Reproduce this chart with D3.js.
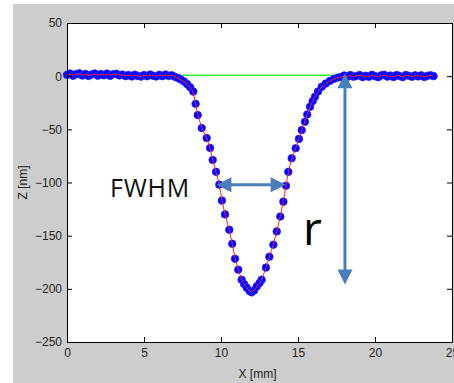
<!DOCTYPE html>
<html>
<head>
<meta charset="utf-8">
<script src="https://cdn.jsdelivr.net/npm/d3@7"></script>
<style>
  html, body { margin: 0; padding: 0; background: #fff; }
  svg { display: block; }
  .tick text { font-family: 'Liberation Sans', Arial, sans-serif; font-size: 12px; fill: #222; }
  .axis path, .axis line { stroke: #000; }
</style>
</head>
<body>
<div id="chart"></div>
<script>
// measured profile (x in mm, z in nm)
const profileX = [
  0, 0.2, 0.4, 0.6, 0.8, 1.0, 1.2, 1.4, 1.6, 1.8, 2.0, 2.2, 2.4, 2.6, 2.8, 3.0, 3.2,
  3.4, 3.6, 3.8, 4.0, 4.2, 4.4, 4.6, 4.8, 5.0, 5.2, 5.4, 5.6, 5.8, 6.0, 6.2, 6.4, 6.6,
  6.8, 7.0, 7.2, 7.4, 7.6, 7.8, 8.0, 8.2, 8.35, 8.49, 8.75, 9.07, 9.29, 9.46, 9.68, 9.89,
  10.06, 10.26, 10.54, 10.73, 10.91, 11.12, 11.34, 11.5, 11.67, 11.85, 11.99, 12.15, 12.32,
  12.5, 12.64, 12.92, 13.14, 13.4, 13.62, 13.85, 14.05, 14.22, 14.37, 14.59, 14.85, 15.06,
  15.24, 15.45, 15.6, 15.78, 15.95, 16.1, 16.3, 16.54, 16.8, 17.08, 17.35, 17.62,
  17.8, 18.0, 18.2, 18.4, 18.6, 18.8, 19.0, 19.2, 19.4, 19.6, 19.8, 20.0, 20.2, 20.4,
  20.6, 20.8, 21.0, 21.2, 21.4, 21.6, 21.8, 22.0, 22.2, 22.4, 22.6, 22.8, 23.0, 23.2,
  23.4, 23.6, 23.8
];
const profileZ = [
  1.2, 2.4, 0.4, 1.9, 2.6, 0.6, 2.1, 0.2, 1.6, 2.5, 0.5, 2.0, 0.8, 2.4, 0.3, 1.8, 2.3,
  0.7, 1.5, 0.0, 1.1, -0.3, 1.4, 0.2, -0.4, 1.1, -0.1, 1.5, 0.3, -0.3, 1.2, 0.0, 1.6, 0.2,
  0.8, -0.5, -1.8, -3.2, -5, -7.5, -10.5, -14.5, -26, -36.6, -48.8, -58.2, -67.5, -78.8, -90, -102,
  -117, -130, -144.5, -157.6, -171.7, -182, -191.4, -195.5, -198.9, -202, -203.3, -201.5, -197.7,
  -194.5, -191.4, -180, -169.8, -158.5, -146, -132, -118, -103, -90, -77.2, -67.8, -59,
  -50.7, -42.9, -36, -28.8, -23.5, -19.4, -14.5, -10, -7, -4.4, -2.5, -1.2,
  -0.9, 0.6, -0.7, 1.0, -0.5, 0.2, 1.1, -0.9, 0.4, -0.6, 1.2, 0.0, -1.0, 0.7,
  1.3, -0.4, 0.5, -0.8, 1.0, 0.1, -0.9, 1.1, 0.3, -0.6, 0.8, -0.2, 0.7, -0.8,
  0.3, 0.9, 0.0
];
// reference baseline
const baseX = [7.0, 18.05];
const baseZ = [0.8, 0.8];
// FWHM and depth annotation end points
const fwhmX = [9.7, 14.2];
const fwhmZ = -102;
const depthX = 18.05;
const depthZ = [2.8, -196];

const xTicks = [0, 5, 10, 15, 20, 25];
const yTicks = [50, 0, -50, -100, -150, -200, -250];

const W = 454, H = 383;
const margin = { top: 23, right: 2, bottom: 41, left: 67 };

const svg = d3.select('#chart').append('svg')
  .attr('width', W).attr('height', H);

// figure background
svg.append('rect').attr('x', 13).attr('y', 4)
  .attr('width', W - 13).attr('height', H - 4).attr('fill', '#cdcdcd');

const x = d3.scaleLinear().domain([0, 25]).range([margin.left, W - margin.right]);
const y = d3.scaleLinear().domain([-250, 50]).range([H - margin.bottom, margin.top]);

svg.append('rect')
  .attr('x', x(0)).attr('y', y(50))
  .attr('width', x(25) - x(0)).attr('height', y(-250) - y(50))
  .attr('fill', '#fff');

const plot = svg.append('g');

// baseline
plot.append('path')
  .datum(d3.range(baseX.length))
  .attr('fill', 'none').attr('stroke', '#33ee33').attr('stroke-width', 1.5)
  .attr('d', d3.line().x(i => x(baseX[i])).y(i => y(baseZ[i])));

// measured points
plot.selectAll('.pt')
  .data(d3.range(profileX.length))
  .enter().append('circle')
  .attr('class', 'pt')
  .attr('cx', i => x(profileX[i]))
  .attr('cy', i => y(profileZ[i]))
  .attr('r', 3.8)
  .attr('fill', '#0000ff')
  .attr('stroke', '#2a2aff')
  .attr('stroke-width', 0.8);

// fit
plot.append('path')
  .datum(d3.range(profileX.length))
  .attr('fill', 'none').attr('stroke', '#ff2020').attr('stroke-width', 1)
  .attr('d', d3.line().curve(d3.curveBasis)
    .x(i => x(profileX[i])).y(i => y(profileZ[i])));

// axes
const tick = 5;
svg.append('g').attr('class', 'axis')
  .attr('transform', `translate(0,${y(-250)})`)
  .call(d3.axisBottom(x).tickValues(xTicks).tickSize(-tick).tickSizeOuter(0).tickPadding(6));
svg.append('g').attr('class', 'axis')
  .attr('transform', `translate(${x(0)},0)`)
  .call(d3.axisLeft(y).tickValues(yTicks).tickSize(-tick).tickSizeOuter(0).tickPadding(5));
svg.append('g').attr('class', 'axis')
  .attr('transform', `translate(0,${y(50)})`)
  .call(d3.axisTop(x).tickValues(xTicks).tickSize(-tick).tickSizeOuter(0).tickFormat(''));
svg.append('g').attr('class', 'axis')
  .attr('transform', `translate(${x(25)},0)`)
  .call(d3.axisRight(y).tickValues(yTicks).tickSize(-tick).tickSizeOuter(0).tickFormat(''));

// axis titles
svg.append('text')
  .attr('x', (x(0) + x(25)) / 2 - 2).attr('y', 378)
  .attr('text-anchor', 'middle')
  .style('font-family', "'Liberation Sans', Arial, sans-serif").style('font-size', '12px').style('fill', '#222')
  .text('X [mm]');
svg.append('text')
  .attr('transform', `translate(27,${(y(50) + y(-250)) / 2}) rotate(-90)`)
  .attr('text-anchor', 'middle')
  .style('font-family', "'Liberation Sans', Arial, sans-serif").style('font-size', '12px').style('fill', '#222')
  .text('Z [nm]');

// annotation arrows
const arrowColor = '#4a7ebb';
const headLen = 15, headHalf = 7.5;
function arrow(x1, y1, x2, y2) {
  const g = svg.append('g');
  const dx = x2 - x1, dy = y2 - y1, len = Math.hypot(dx, dy);
  const ux = dx / len, uy = dy / len, px = -uy, py = ux;
  g.append('line')
    .attr('x1', x1 + ux * headLen * 0.8).attr('y1', y1 + uy * headLen * 0.8)
    .attr('x2', x2 - ux * headLen * 0.8).attr('y2', y2 - uy * headLen * 0.8)
    .attr('stroke', arrowColor).attr('stroke-width', 3);
  const head = (tx, ty, s) => [
    [tx, ty],
    [tx - s * ux * headLen + px * headHalf, ty - s * uy * headLen + py * headHalf],
    [tx - s * ux * headLen - px * headHalf, ty - s * uy * headLen - py * headHalf]
  ].map(p => p.join(',')).join(' ');
  g.append('polygon').attr('points', head(x2, y2, 1)).attr('fill', arrowColor);
  g.append('polygon').attr('points', head(x1, y1, -1)).attr('fill', arrowColor);
}
arrow(x(fwhmX[0]), y(fwhmZ), x(fwhmX[1]), y(fwhmZ));
arrow(x(depthX), y(depthZ[0]), x(depthX), y(depthZ[1]));

// labels
svg.append('text')
  .attr('x', 110).attr('y', 197)
  .style('font-family', "'Open Sans', sans-serif").style('font-size', '25px')
  .style('letter-spacing', '0.8px').style('fill', '#111')
  .text('FWHM');
svg.append('text')
  .attr('x', 303).attr('y', 245)
  .style('font-family', "'Open Sans', sans-serif").style('font-size', '46px').style('fill', '#000')
  .text('r');
</script>
</body>
</html>
